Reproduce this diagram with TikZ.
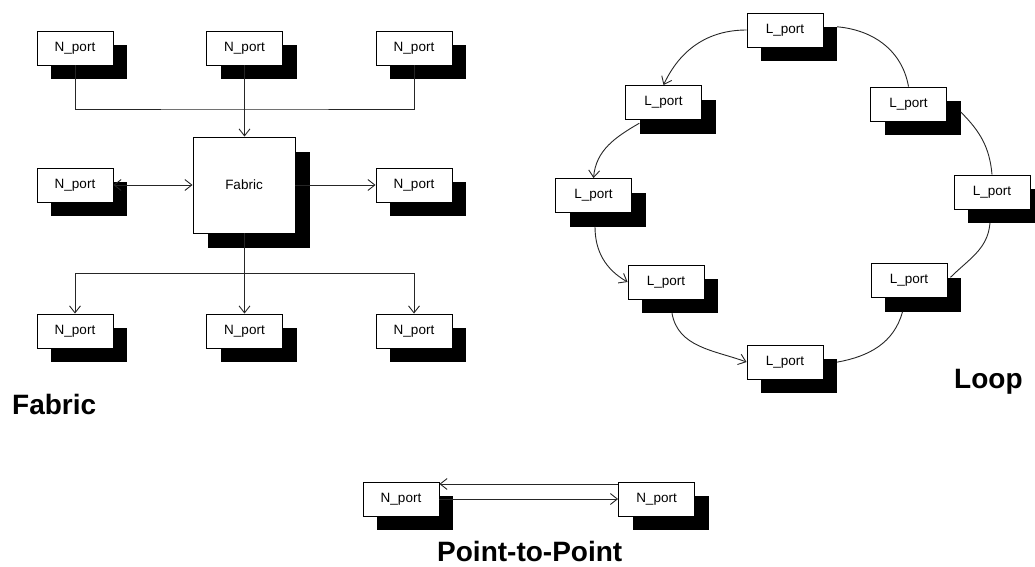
\documentclass[tikz,border=0pt]{standalone}
\usepackage{fontspec}
\setmainfont{Liberation Sans}
\usetikzlibrary{arrows.meta}
\tikzset{
 port/.style={draw=black, fill=white, line width=0.9pt, minimum width=76pt, minimum height=34pt, inner sep=0pt, font=\fontsize{13.5}{16}\selectfont},
 shad/.style={fill=black, minimum width=76pt, minimum height=34pt, inner sep=0pt},
 conn/.style={line width=0.9pt, draw=black!85},
 tip/.style={-{Straight Barb[length=7pt,width=11pt]}},
 title/.style={font=\fontsize{28}{32}\selectfont\bfseries, inner sep=0pt},
}
\newcommand\mkport[3]{%
 \node[shad] (#1s) at ([shift={(14,-14)}]#2) {};
 \node[port] (#1) at (#2) {#3};}
\begin{document}
\begin{tikzpicture}[x=1pt,y=1pt]
\useasboundingbox (0,0) rectangle (1035,-566);
% ---------------- Fabric ----------------
\mkport{t1}{75,-48}{N\_port}
\mkport{t2}{244.5,-48}{N\_port}
\mkport{t3}{414,-48}{N\_port}
\mkport{m1}{75,-185}{N\_port}
\mkport{m3}{414,-185}{N\_port}
\mkport{b1}{75,-331}{N\_port}
\mkport{b2}{244.5,-331}{N\_port}
\mkport{b3}{414,-331}{N\_port}
\node[shad, minimum width=102pt, minimum height=96pt] (fabs) at (259,-200) {};
\node[port, minimum width=102pt, minimum height=96pt] (fab) at (244,-185) {Fabric};
\coordinate (jt) at (244.5,-109);
\coordinate (jb) at (244.5,-273);
\draw[conn] (t1.south) |- (jt) -| (t3.south);
\draw[conn,tip] (t2.south) -- (fab.north -| t2.south);
\draw[conn,{Straight Barb[length=7pt,width=11pt]}-{Straight Barb[length=7pt,width=11pt]}] (m1.east) -- (fab.west);
\draw[conn,tip] (fab.east) -- (m3.west);
\draw[conn] (fab.south -| jb) -- (jb);
\draw[conn,tip] (jb) -| (b1.north);
\draw[conn,tip] (jb) -| (b3.north);
\draw[conn,tip] (jb) -- (b2.north);
\node[title, anchor=base west] (ft) at (12,-414) {Fabric};
% ---------------- Loop ----------------
\mkport{L1}{785,-30}{L\_port}
\mkport{L2}{663.5,-102.5}{L\_port}
\mkport{L3}{908.5,-104}{L\_port}
\mkport{L4}{593.5,-195.5}{L\_port}
\mkport{L5}{992,-192}{L\_port}
\mkport{L6}{666,-282}{L\_port}
\mkport{L7}{909,-280.5}{L\_port}
\mkport{L8}{785,-362}{L\_port}
\draw[conn,tip] (L1.west) to[out=180,in=65] (L2.north);
\draw[conn,tip] (L2s.190) to[out=210,in=85] (L4.north);
\draw[conn,tip] (L4s.234) to[out=270,in=150] (L6.west);
\draw[conn,tip] (L6s.245) to[out=280,in=160] (L8.west);
\draw[conn] (L8s.20) to[out=10,in=255] (L7s.220);
\draw[conn] (L7s.32) to[out=45,in=265] (L5s.227);
\draw[conn] (L5.north) to[out=95,in=-45] (L3s.9);
\draw[conn] (L3.north) to[out=100,in=-5] (L1s.north east);
\node[title, anchor=base west] (lt) at (954,-388) {Loop};
% ---------------- Point-to-Point ----------------
\mkport{P1}{401,-499}{N\_port}
\mkport{P2}{656.5,-499}{N\_port}
\draw[conn,tip] ([yshift=15pt]P2.west) -- ([yshift=15pt]P1.east);
\draw[conn,tip] (P1.east) -- (P2.west);
\node[title, anchor=base west] (pt) at (437,-561) {Point-to-Point};
\end{tikzpicture}
\end{document}
